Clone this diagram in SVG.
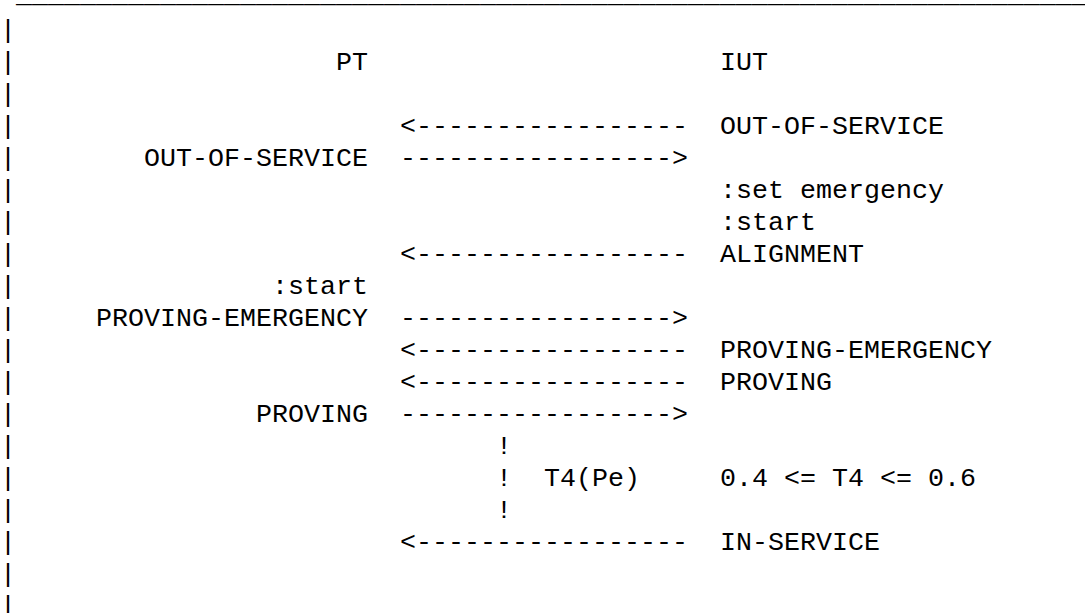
<svg xmlns="http://www.w3.org/2000/svg" width="1085" height="613" viewBox="0 0 1085 613">
<style>
text { font-family: "Liberation Mono", "Courier New", monospace; font-size: 26.67px; fill: #000; white-space: pre; }
</style>
<rect width="1085" height="613" fill="#fff"/>
<g id="frame">
<text x="16" y="2">___________________________________________________________________</text>
<text x="0" y="38">|</text><text x="0" y="70">|</text><text x="0" y="102">|</text><text x="0" y="134">|</text>
<text x="0" y="166">|</text><text x="0" y="198">|</text><text x="0" y="230">|</text><text x="0" y="262">|</text>
<text x="0" y="294">|</text><text x="0" y="326">|</text><text x="0" y="358">|</text><text x="0" y="390">|</text>
<text x="0" y="422">|</text><text x="0" y="454">|</text><text x="0" y="486">|</text><text x="0" y="518">|</text>
<text x="0" y="550">|</text><text x="0" y="582">|</text><text x="0" y="614">|</text>
</g>
<g id="pt"><text x="336" y="70">PT</text></g>
<g id="iut"><text x="720" y="70">IUT</text></g>
<g id="pt-labels">
<text x="144" y="166">OUT-OF-SERVICE</text>
<text x="272" y="294">:start</text>
<text x="96" y="326">PROVING-EMERGENCY</text>
<text x="256" y="422">PROVING</text>
</g>
<g id="iut-labels">
<text x="720" y="134">OUT-OF-SERVICE</text>
<text x="720" y="198">:set emergency</text>
<text x="720" y="230">:start</text>
<text x="720" y="262">ALIGNMENT</text>
<text x="720" y="358">PROVING-EMERGENCY</text>
<text x="720" y="390">PROVING</text>
<text x="720" y="550">IN-SERVICE</text>
</g>
<g id="timer">
<text x="496" y="454">!</text>
<text x="496" y="486">!</text>
<text x="544" y="486">T4(Pe)</text>
<text x="720" y="486">0.4 &lt;= T4 &lt;= 0.6</text>
<text x="496" y="518">!</text>
</g>
<g id="connectors">
<text x="400" y="134">&lt;-----------------</text>
<text x="400" y="166">-----------------&gt;</text>
<text x="400" y="262">&lt;-----------------</text>
<text x="400" y="326">-----------------&gt;</text>
<text x="400" y="358">&lt;-----------------</text>
<text x="400" y="390">&lt;-----------------</text>
<text x="400" y="422">-----------------&gt;</text>
<text x="400" y="550">&lt;-----------------</text>
</g>
</svg>
